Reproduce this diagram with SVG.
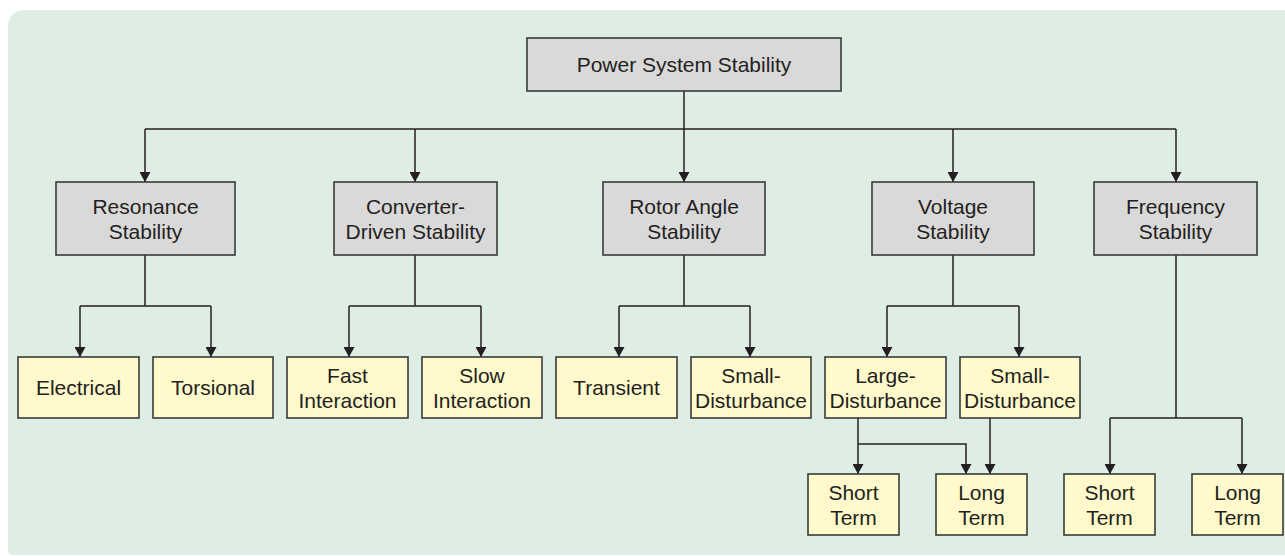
<svg xmlns="http://www.w3.org/2000/svg" width="1285" height="556" viewBox="0 0 1285 556">
<style>
.g{fill:#d9d9d9;stroke:#3a3a3a;stroke-width:1.6}
.y{fill:#fff9cc;stroke:#3a3a3a;stroke-width:1.6}
text{font-family:"Liberation Sans",Arial,sans-serif;font-size:21px;fill:#231f20;text-anchor:middle}
.c path{fill:none;stroke:#231f20;stroke-width:1.5}
</style>
<defs>
<marker id="a" markerWidth="10" markerHeight="11" refX="10" refY="5.5" orient="auto" markerUnits="userSpaceOnUse" viewBox="0 0 10 11">
<path d="M0,0 L10,5.5 L0,11 Z" fill="#231f20"/>
</marker>
</defs>
<rect width="1285" height="556" fill="#ffffff"/>
<path d="M8,28 Q8,10 26,10 L1285,10 L1285,555 L13,555 Q8,555 8,550 Z" fill="#deeee5"/>
<g class="c">
<path d="M684,91 V129"/>
<path d="M145,129 H1176"/>
<path d="M145,129 V182" marker-end="url(#a)"/>
<path d="M415,129 V182" marker-end="url(#a)"/>
<path d="M684,129 V182" marker-end="url(#a)"/>
<path d="M953,129 V182" marker-end="url(#a)"/>
<path d="M1176,129 V182" marker-end="url(#a)"/>
<path d="M145,255 V306 M80,306 H211"/>
<path d="M80,306 V357" marker-end="url(#a)"/>
<path d="M211,306 V357" marker-end="url(#a)"/>
<path d="M415,255 V306 M349,306 H481"/>
<path d="M349,306 V357" marker-end="url(#a)"/>
<path d="M481,306 V357" marker-end="url(#a)"/>
<path d="M684,255 V306 M619,306 H750"/>
<path d="M619,306 V357" marker-end="url(#a)"/>
<path d="M750,306 V357" marker-end="url(#a)"/>
<path d="M953,255 V306 M887,306 H1019"/>
<path d="M887,306 V357" marker-end="url(#a)"/>
<path d="M1019,306 V357" marker-end="url(#a)"/>
<path d="M1176,255 V418 M1110,418 H1242"/>
<path d="M1110,418 V474" marker-end="url(#a)"/>
<path d="M1242,418 V474" marker-end="url(#a)"/>
<path d="M858,418 V474" marker-end="url(#a)"/>
<path d="M858,444 H966 V474" marker-end="url(#a)"/>
<path d="M990,418 V474" marker-end="url(#a)"/>
</g>
<g id="root"><rect class="g" x="527" y="38" width="314" height="53"/><text x="684" y="72">Power System Stability</text></g>
<g id="resonance"><rect class="g" x="56" y="182" width="179" height="73"/><text x="145.5" y="213.5">Resonance</text><text x="145.5" y="238.5">Stability</text></g>
<g id="converter"><rect class="g" x="334" y="182" width="163" height="73"/><text x="415.5" y="213.5">Converter-</text><text x="415.5" y="238.5">Driven Stability</text></g>
<g id="rotor"><rect class="g" x="603" y="182" width="162" height="73"/><text x="684" y="213.5">Rotor Angle</text><text x="684" y="238.5">Stability</text></g>
<g id="voltage"><rect class="g" x="872" y="182" width="162" height="73"/><text x="953" y="213.5">Voltage</text><text x="953" y="238.5">Stability</text></g>
<g id="frequency"><rect class="g" x="1094" y="182" width="163" height="73"/><text x="1175.5" y="213.5">Frequency</text><text x="1175.5" y="238.5">Stability</text></g>
<g id="electrical"><rect class="y" x="18" y="357" width="121" height="61"/><text x="78.5" y="395">Electrical</text></g>
<g id="torsional"><rect class="y" x="153" y="357" width="120" height="61"/><text x="213" y="395">Torsional</text></g>
<g id="fast"><rect class="y" x="287" y="357" width="121" height="61"/><text x="347.5" y="382.5">Fast</text><text x="347.5" y="407.5">Interaction</text></g>
<g id="slow"><rect class="y" x="422" y="357" width="120" height="61"/><text x="482" y="382.5">Slow</text><text x="482" y="407.5">Interaction</text></g>
<g id="transient"><rect class="y" x="556" y="357" width="121" height="61"/><text x="616.5" y="395">Transient</text></g>
<g id="rotor-small"><rect class="y" x="691" y="357" width="120" height="61"/><text x="751" y="382.5">Small-</text><text x="751" y="407.5">Disturbance</text></g>
<g id="large"><rect class="y" x="825" y="357" width="121" height="61"/><text x="885.5" y="382.5">Large-</text><text x="885.5" y="407.5">Disturbance</text></g>
<g id="voltage-small"><rect class="y" x="960" y="357" width="120" height="61"/><text x="1020" y="382.5">Small-</text><text x="1020" y="407.5">Disturbance</text></g>
<g id="v-short"><rect class="y" x="808" y="474" width="91" height="61"/><text x="853.5" y="499.5">Short</text><text x="853.5" y="524.5">Term</text></g>
<g id="v-long"><rect class="y" x="936" y="474" width="91" height="61"/><text x="981.5" y="499.5">Long</text><text x="981.5" y="524.5">Term</text></g>
<g id="f-short"><rect class="y" x="1064" y="474" width="91" height="61"/><text x="1109.5" y="499.5">Short</text><text x="1109.5" y="524.5">Term</text></g>
<g id="f-long"><rect class="y" x="1192" y="474" width="91" height="61"/><text x="1237.5" y="499.5">Long</text><text x="1237.5" y="524.5">Term</text></g>
</svg>
